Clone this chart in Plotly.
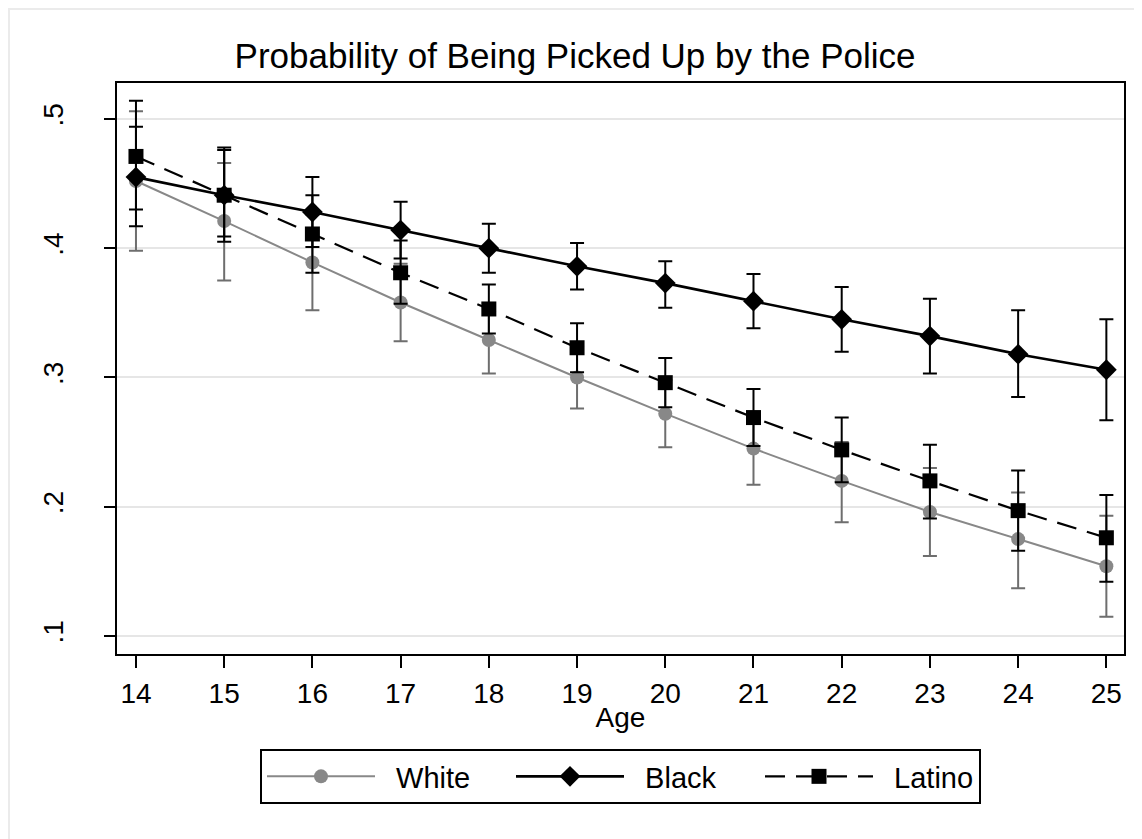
import plotly.graph_objects as go

ages = [14, 15, 16, 17, 18, 19, 20, 21, 22, 23, 24, 25]

white = [0.452, 0.421, 0.389, 0.358, 0.329, 0.300, 0.272, 0.245, 0.220, 0.196, 0.175, 0.154]
white_lo = [0.398, 0.375, 0.352, 0.328, 0.303, 0.276, 0.246, 0.217, 0.188, 0.162, 0.137, 0.115]
white_hi = [0.506, 0.466, 0.426, 0.388, 0.355, 0.324, 0.298, 0.272, 0.250, 0.230, 0.211, 0.193]

black = [0.455, 0.441, 0.428, 0.414, 0.400, 0.386, 0.373, 0.359, 0.345, 0.332, 0.318, 0.306]
black_lo = [0.417, 0.405, 0.401, 0.392, 0.381, 0.368, 0.354, 0.338, 0.320, 0.303, 0.285, 0.267]
black_hi = [0.494, 0.478, 0.455, 0.436, 0.419, 0.404, 0.390, 0.380, 0.370, 0.361, 0.352, 0.345]

latino = [0.471, 0.441, 0.411, 0.381, 0.353, 0.323, 0.296, 0.269, 0.244, 0.220, 0.197, 0.176]
latino_lo = [0.430, 0.409, 0.381, 0.357, 0.334, 0.304, 0.277, 0.247, 0.219, 0.191, 0.166, 0.142]
latino_hi = [0.514, 0.476, 0.441, 0.406, 0.372, 0.342, 0.315, 0.291, 0.269, 0.248, 0.228, 0.209]

y_ticks = [0.1, 0.2, 0.3, 0.4, 0.5]
y_ticktext = [".1", ".2", ".3", ".4", ".5"]

FONT = "Liberation Sans, Arial, sans-serif"
W, H = 1134, 831  # page body has an 8px margin


def err(vals, lo, hi, color):
    return dict(
        type="data", symmetric=False,
        array=[h - v for v, h in zip(vals, hi)],
        arrayminus=[v - l for v, l in zip(vals, lo)],
        color=color, thickness=2, width=7,
    )


fig = go.Figure()
fig.add_trace(go.Scatter(
    x=ages, y=white, name="\u00a0\u00a0White", mode="lines+markers",
    line=dict(color="#888888", width=2),
    marker=dict(symbol="circle", size=14, color="#888888"),
    error_y=err(white, white_lo, white_hi, "#6e6e6e"),
    legendwidth=126,
))
fig.add_trace(go.Scatter(
    x=ages, y=black, name="\u00a0\u00a0Black", mode="lines+markers",
    line=dict(color="black", width=2.6),
    marker=dict(symbol="diamond", size=16, color="black"),
    error_y=err(black, black_lo, black_hi, "black"),
    legendwidth=126,
))
fig.add_trace(go.Scatter(
    x=ages, y=latino, name="\u00a0\u00a0Latino", mode="lines+markers",
    line=dict(color="black", width=2.2, dash="20px,11px"),
    marker=dict(symbol="square", size=15, color="black"),
    error_y=err(latino, latino_lo, latino_hi, "black"),
))

fig.update_layout(
    width=W, height=H,
    margin=dict(l=109, r=18, t=75, b=185),
    paper_bgcolor="white", plot_bgcolor="white",
    font=dict(family=FONT, color="black", size=28),
    title=dict(text="Probability of Being Picked Up by the Police",
               x=0.5, xref="container", y=1 - 48 / H, yref="container",
               xanchor="center", yanchor="middle",
               font=dict(family=FONT, size=35, color="black")),
    showlegend=True,
    legend=dict(orientation="h", x=0.5, xref="paper", xanchor="center",
                y=1 - 741 / H, yref="container", yanchor="top",
                bordercolor="black", borderwidth=2, bgcolor="white",
                itemwidth=108, font=dict(family=FONT, size=29),
                traceorder="normal", tracegroupgap=0),
    xaxis=dict(range=[13.785, 25.2], tickvals=ages, ticks="outside", ticklen=12,
               tickwidth=2, tickcolor="black", showline=True, linewidth=2,
               linecolor="black", mirror=True, showgrid=False, zeroline=False,
               tickfont=dict(size=28), ticklabelstandoff=1,
               title=dict(text="Age", font=dict(size=28), standoff=0)),
    yaxis=dict(range=[0.0861, 0.5278], tickvals=y_ticks, ticktext=y_ticktext,
               tickangle=-90, ticks="outside", ticklen=11, tickwidth=2,
               tickcolor="black", showline=True, linewidth=2, linecolor="black",
               mirror=True, showgrid=True, gridcolor="#e6e6e6", gridwidth=2,
               zeroline=False, tickfont=dict(size=28), ticklabelstandoff=30),
    shapes=[dict(type="rect", xref="paper", yref="paper",
                 x0=-108 / 1007, x1=1.2,
                 y0=-0.5, y1=1 + 74 / 571,
                 line=dict(color="#ebebeb", width=2), layer="below")],
)

fig.write_html("out.html")
